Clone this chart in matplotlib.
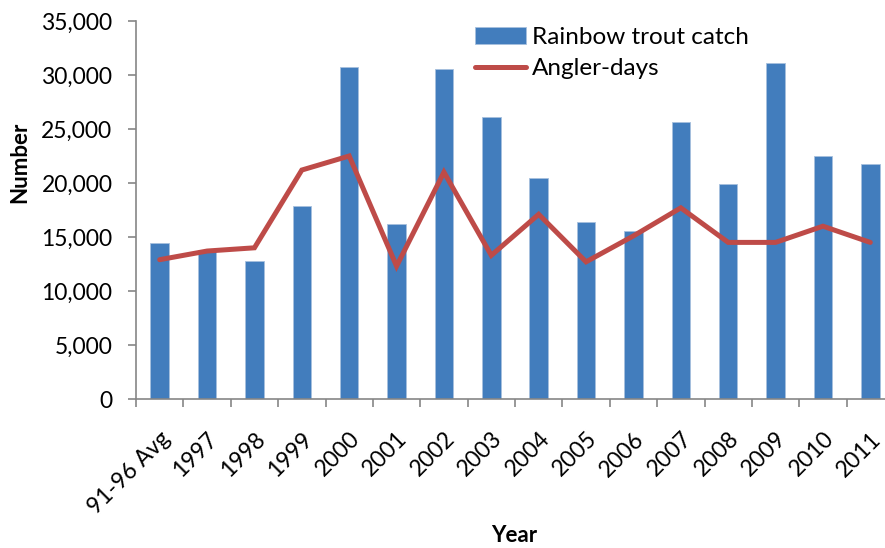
import matplotlib
matplotlib.use("Agg")
import matplotlib.pyplot as plt
import numpy as np

plt.rcParams['font.family'] = ['Lato', 'DejaVu Sans']

years = ["91-96 Avg", "1997", "1998", "1999", "2000", "2001", "2002", "2003",
         "2004", "2005", "2006", "2007", "2008", "2009", "2010", "2011"]
trout_catch = [14400, 13800, 12800, 17900, 30700, 16200, 30600, 26100,
               20500, 16400, 15550, 25650, 19900, 31100, 22500, 21800]
angler_days = [12900, 13700, 14000, 21200, 22500, 12300, 21000, 13300,
               17100, 12700, 15100, 17700, 14500, 14500, 16000, 14500]
y_ticks = [0, 5000, 10000, 15000, 20000, 25000, 30000, 35000]

bar_color = "#427DBD"
line_color = "#BE4B48"
spine_color = "#868686"

fig = plt.figure(figsize=(8.85, 5.48), dpi=100)
ax = fig.add_axes([136 / 885, 1 - 399 / 548, 758 / 885, (399 - 21) / 548])

x = np.arange(len(years))
bars = ax.bar(x, trout_catch, width=0.39, color=bar_color, edgecolor="#A7C0DE",
              linewidth=0.6, label="Rainbow trout catch", zorder=2)
line, = ax.plot(x, angler_days, color=line_color, linewidth=3.6, solid_joinstyle="miter",
                solid_capstyle="round", label="Angler-days", zorder=3)

ax.set_xlim(-0.5, len(years) - 0.5)
ax.set_ylim(0, 35000)
ax.set_yticks(y_ticks)
ax.set_yticklabels([f"{v:,}" for v in y_ticks], fontsize=16.5)

# category labels at bar centres, tick marks on the category boundaries
ax.set_xticks(x)
ax.set_xticklabels(years, rotation=45, ha="right", rotation_mode="anchor", fontsize=16.5)
ax.tick_params(axis="x", length=0, pad=21)
ax.set_xticks(np.arange(-0.5, len(years), 1.0), minor=True)
ax.tick_params(axis="x", which="minor", length=6, color=spine_color, width=1.2, direction="out")
ax.tick_params(axis="y", length=6, color=spine_color, width=1.2, direction="out", pad=11)

for side in ("top", "right"):
    ax.spines[side].set_visible(False)
for side in ("left", "bottom"):
    ax.spines[side].set_color(spine_color)
    ax.spines[side].set_linewidth(1.2)

fig.text(20 / 885, 1 - 162 / 548, "Number", fontsize=16, fontweight="bold",
         rotation=90, ha="center", va="center")
fig.text(514 / 885, 1 - 535 / 548, "Year", fontsize=16, fontweight="bold",
         ha="center", va="center")

ax.legend(handles=[bars, line], labels=["Rainbow trout catch", "Angler-days"],
          loc="upper left", bbox_to_anchor=(475 / 885, 1 - 27 / 548),
          bbox_transform=fig.transFigure, frameon=False, fontsize=17.5,
          handlelength=2.1, handletextpad=0.25, labelspacing=0.42,
          borderaxespad=0, borderpad=0)

fig.savefig("out.png", dpi=100)
